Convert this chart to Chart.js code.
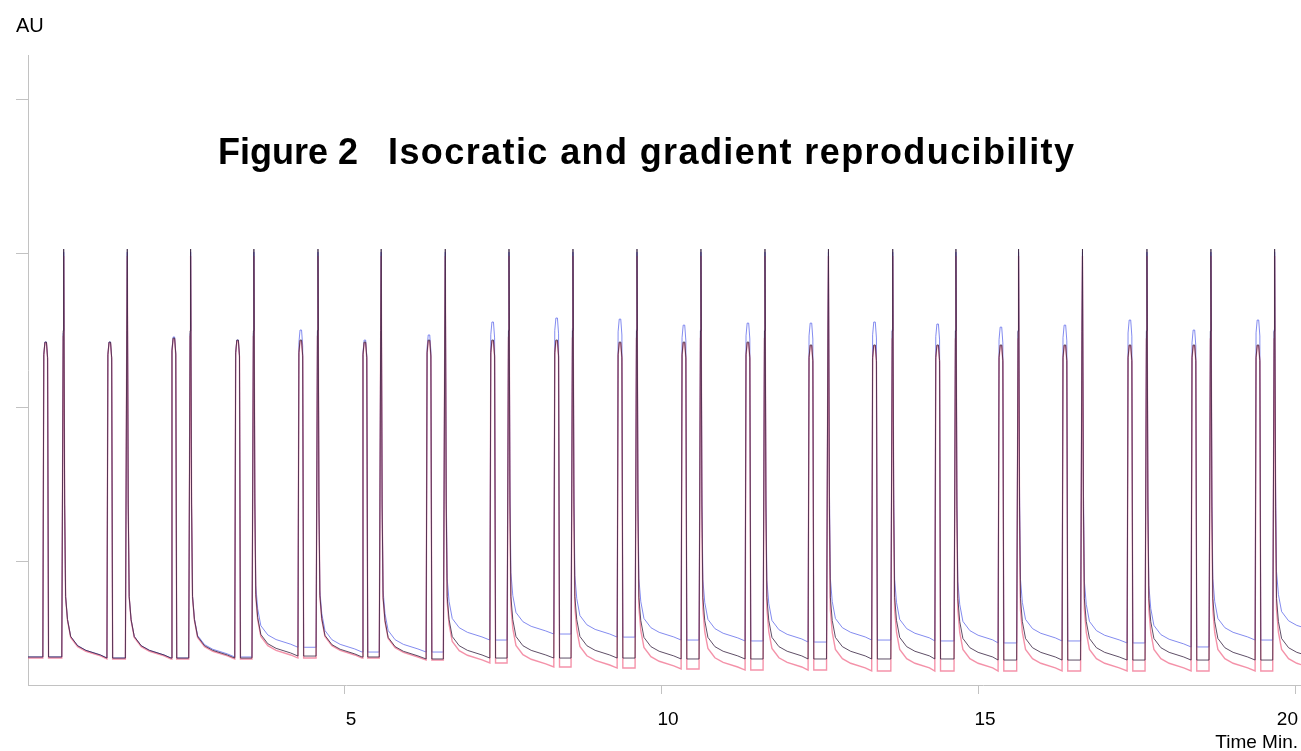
<!DOCTYPE html>
<html lang="en">
<head>
    <meta charset="UTF-8">
    <title>Figure 2 Isocratic and gradient reproducibility</title>
    <script src="https://cdn.jsdelivr.net/npm/chart.js"></script>
    <style>
        html, body { margin: 0; padding: 0; background: #fff; }
        #wrap { position: relative; width: 1301px; height: 751px; }
        #title {
            position: absolute; left: 218px; top: 134px;
            font: bold 36px "Liberation Sans", Arial, sans-serif;
            line-height: 36px; white-space: pre; color: #000;
        }
        #title .rest { letter-spacing: 1.4px; }
        #au {
            position: absolute; left: 16px; top: 15px;
            font: 20px "Liberation Sans", Arial, sans-serif;
            line-height: 20px; color: #000;
        }
    </style>
</head>
<body>
    <div id="wrap">
        <canvas id="chromChart" width="1301" height="751"></canvas>
        <div id="au">AU</div>
        <div id="title">Figure 2   <span class="rest">Isocratic and gradient reproducibility</span></div>
    </div>

    <script>
        // axis ticks
        const xTicks = [5, 10, 15, 20];
        const xTickLabels = ['5', '10', '15', '20'];
        const yTicks = [0.1, 0.2, 0.3, 0.4];

        // retention times of the two peaks of each injection (min)
        const smallPeakTimes = [0.279, 1.290, 2.301, 3.306, 4.303, 5.314, 6.325, 7.330, 8.339, 9.338,
                                10.347, 11.356, 12.350, 13.353, 14.349, 15.347, 16.356, 17.382, 18.391, 19.401];
        const bigPeakTimes = [0.563, 1.566, 2.565, 3.563, 4.574, 5.571, 6.582, 7.587, 8.596, 9.606,
                              10.615, 11.625, 12.626, 13.640, 14.637, 15.625, 16.633, 17.650, 18.659, 19.664];

        // peak heights (AU)
        const blueSmall = [0.2422, 0.2422, 0.2455, 0.2435, 0.2500, 0.2435, 0.2468, 0.2552, 0.2578, 0.2571,
                           0.2532, 0.2545, 0.2545, 0.2552, 0.2539, 0.2519, 0.2532, 0.2565, 0.2500, 0.2565];
        const darkSmall = [0.2422, 0.2422, 0.2448, 0.2435, 0.2435, 0.2422, 0.2435, 0.2435, 0.2435, 0.2422,
                           0.2422, 0.2422, 0.2403, 0.2403, 0.2403, 0.2403, 0.2403, 0.2403, 0.2403, 0.2403];
        const redSmall  = [0.2415, 0.2415, 0.2440, 0.2428, 0.2428, 0.2415, 0.2428, 0.2428, 0.2428, 0.2415,
                           0.2415, 0.2415, 0.2396, 0.2396, 0.2396, 0.2396, 0.2396, 0.2396, 0.2396, 0.2396];
        const blueBig = [0.3006, 0.3006, 0.3006, 0.3006, 0.3006, 0.3006, 0.3006, 0.3006, 0.3006, 0.3006,
                         0.3006, 0.3006, 0.3006, 0.3006, 0.3006, 0.3006, 0.3006, 0.3006, 0.3006, 0.3006];
        const darkBig = [0.3026, 0.3026, 0.3026, 0.3026, 0.3026, 0.3026, 0.3026, 0.3026, 0.3026, 0.3026,
                         0.3026, 0.3026, 0.3026, 0.3026, 0.3026, 0.3026, 0.3026, 0.3026, 0.3026, 0.3026];
        const redBig  = [0.2981, 0.2981, 0.2981, 0.2981, 0.2981, 0.2981, 0.2981, 0.2981, 0.2981, 0.2981,
                         0.2981, 0.2981, 0.2981, 0.2981, 0.2981, 0.2981, 0.2981, 0.2981, 0.2981, 0.2981];

        // baseline level at the end of each injection (AU)
        const startBase = [0.0377, 0.0377, 0.0370];
        const blueBase = [0.0370, 0.0370, 0.0377, 0.0440, 0.0409, 0.0409, 0.0487, 0.0526, 0.0506, 0.0487,
                          0.0481, 0.0474, 0.0487, 0.0481, 0.0468, 0.0481, 0.0468, 0.0442, 0.0487, 0.0532];
        const darkBase = [0.0370, 0.0370, 0.0370, 0.0383, 0.0377, 0.0364, 0.0370, 0.0370, 0.0370, 0.0364,
                          0.0364, 0.0364, 0.0364, 0.0364, 0.0357, 0.0357, 0.0357, 0.0357, 0.0357, 0.0357];
        const redBase  = [0.0364, 0.0364, 0.0364, 0.0370, 0.0370, 0.0357, 0.0338, 0.0312, 0.0305, 0.0299,
                          0.0292, 0.0292, 0.0286, 0.0286, 0.0286, 0.0286, 0.0286, 0.0286, 0.0286, 0.0286];

        const smallShapeDt = [-0.045, -0.03, -0.012, 0.012, 0.03, 0.045];
        const smallShapeFrac = [0, 0.96, 1, 1, 0.95, 0];
        const bigRiseDt = [-0.03, -0.008, 0];
        const bigRiseFrac = [0, 0.8, 1];
        // tailing after the main peak: offset (min) and height above the new baseline (AU)
        const tailDt = [0.015, 0.03, 0.06, 0.11, 0.22, 0.35, 0.58];
        const tailRise = [0.100, 0.040, 0.025, 0.014, 0.008, 0.005, 0.002];

        function buildTrace(base0, ends, smallH, bigH) {
            const pts = [{ x: 0, y: base0 }];
            let base = base0;
            for (let i = 0; i < smallPeakTimes.length; i++) {
                const ts = smallPeakTimes[i], tb = bigPeakTimes[i];
                smallShapeDt.forEach((dt, j) => {
                    pts.push({ x: ts + dt, y: base + smallShapeFrac[j] * (smallH[i] - base) });
                });
                bigRiseDt.forEach((dt, j) => {
                    pts.push({ x: tb + dt, y: base + bigRiseFrac[j] * (bigH[i] - base) });
                });
                const next = ends[i];
                tailDt.forEach((dt, j) => {
                    pts.push({ x: tb + dt, y: next + tailRise[j] });
                });
                base = next;
            }
            pts.push({ x: 20, y: base });
            return pts;
        }

        const axisGrey = '#c2c2c2';

        const tickLabels = {
            id: 'tickLabels',
            afterDraw(chart) {
                const ctx = chart.ctx;
                const xs = chart.scales.x;
                ctx.save();
                ctx.fillStyle = '#000';
                ctx.font = '19px "Liberation Sans", Arial, sans-serif';
                ctx.textBaseline = 'alphabetic';
                ctx.textAlign = 'left';
                xTicks.forEach((v, i) => {
                    const w = ctx.measureText(xTickLabels[i]).width;
                    let left = xs.getPixelForValue(v) + 6 - w / 2;
                    if (left + w > 1298) left = 1298 - w;
                    ctx.fillText(xTickLabels[i], left, 725);
                });
                ctx.textAlign = 'right';
                ctx.fillText('Time Min.', 1298, 748);
                ctx.restore();
            }
        };

        var ctx = document.getElementById('chromChart').getContext('2d');
        var chromChart = new Chart(ctx, {
            type: 'line',
            data: {
                datasets: [
                    {
                        label: 'run 2',
                        data: buildTrace(startBase[1], darkBase, darkSmall, darkBig),
                        borderColor: 'rgba(55, 35, 65, 0.8)',
                        borderWidth: 1,
                        order: 0
                    },
                    {
                        label: 'run 3',
                        data: buildTrace(startBase[2], redBase, redSmall, redBig),
                        borderColor: 'rgba(240, 110, 140, 0.75)',
                        borderWidth: 1.4,
                        order: 1
                    },
                    {
                        label: 'run 1',
                        data: buildTrace(startBase[0], blueBase, blueSmall, blueBig),
                        borderColor: 'rgba(100, 110, 235, 0.8)',
                        borderWidth: 1,
                        order: 2
                    }
                ]
            },
            options: {
                responsive: false,
                animation: false,
                parsing: false,
                elements: {
                    point: { radius: 0 },
                    line: { tension: 0, fill: false }
                },
                layout: { padding: { top: 55, right: 0, left: 0, bottom: 0 } },
                plugins: {
                    legend: { display: false },
                    tooltip: { enabled: false }
                },
                scales: {
                    x: {
                        type: 'linear',
                        min: 0,
                        max: 20.08,
                        afterBuildTicks: s => { s.ticks = xTicks.map(v => ({ value: v })); },
                        afterFit: s => { s.height = 66; },
                        ticks: { display: false },
                        grid: { drawOnChartArea: false, drawTicks: true, tickLength: 9, color: axisGrey },
                        border: { color: axisGrey }
                    },
                    y: {
                        type: 'linear',
                        min: 0.0195,
                        max: 0.4286,
                        afterBuildTicks: s => { s.ticks = yTicks.map(v => ({ value: v })); },
                        afterFit: s => { s.width = 28; },
                        ticks: { display: false },
                        grid: { drawOnChartArea: false, drawTicks: true, tickLength: 12, color: axisGrey },
                        border: { color: axisGrey }
                    }
                }
            },
            plugins: [tickLabels]
        });
    </script>
</body>
</html>
